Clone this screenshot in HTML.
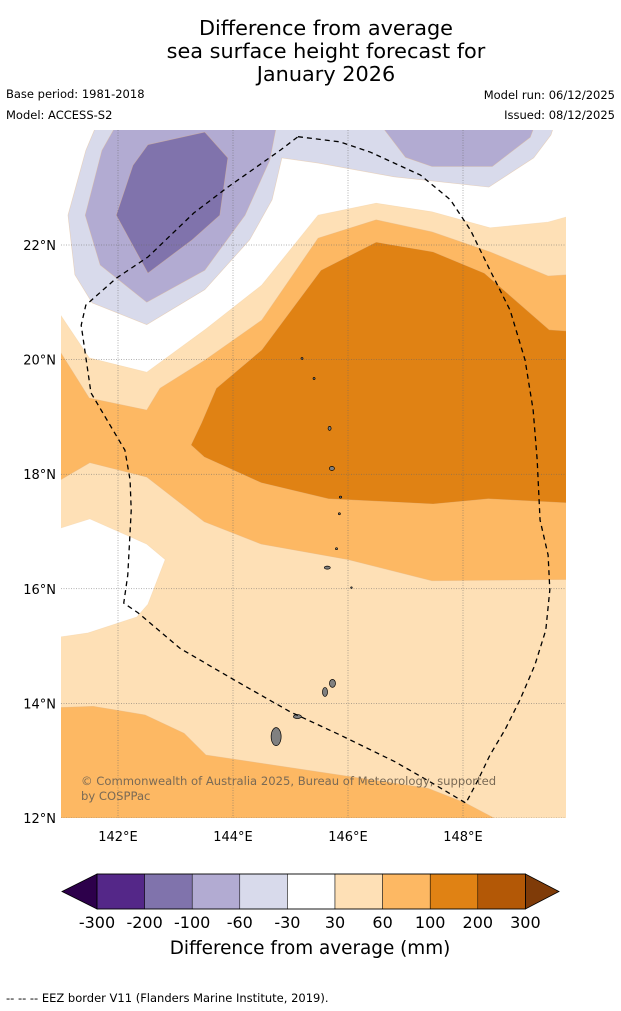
<!DOCTYPE html>
<html><head><meta charset="utf-8"><style>
body{margin:0;background:#fff;width:621px;height:1011px;overflow:hidden;font-family:"DejaVu Sans","Liberation Sans",sans-serif}
svg{position:absolute;left:0;top:0}
</style></head><body>
<svg id="chart" width="621" height="1011">
<text x="326" y="35" text-anchor="middle" font-size="20.8">Difference from average</text>
<text x="326" y="58" text-anchor="middle" font-size="20.8">sea surface height forecast for</text>
<text x="326" y="81" text-anchor="middle" font-size="20.8">January 2026</text>
<text x="6" y="98" font-size="11.5">Base period: 1981-2018</text>
<text x="6" y="119" font-size="11.5">Model: ACCESS-S2</text>
<text x="615" y="99" font-size="11.5" text-anchor="end">Model run: 06/12/2025</text>
<text x="615" y="119" font-size="11.5" text-anchor="end">Issued: 08/12/2025</text>
<defs><clipPath id="mc"><rect x="61" y="130" width="505" height="688"/></clipPath></defs>
<g id="map" clip-path="url(#mc)"></g>
<g id="axes"></g>
<g id="cbar"></g>
<text x="310" y="954" text-anchor="middle" font-size="18.4">Difference from average (mm)</text>
<text x="6" y="1002" font-size="11.5">--  --  -- EEZ border V11 (Flanders Marine Institute, 2019).</text>
</svg>
<script>
const lonTicks=[142,144,146,148];
const latTicks=[12,14,16,18,20,22];
const cbLevels=["-300","-200","-100","-60","-30","30","60","100","200","300"];
const cbColors=["#542788","#8073ac","#b2abd2","#d8daeb","#ffffff","#fee0b6","#fdb863","#e08214","#b35806"];
const contourWhite=[[141.0,20.78],[141.5,20.03],[142.5,19.78],[143.51,20.52],[144.5,21.3],[145.48,22.52],[146.49,22.73],[147.46,22.58],[148.47,22.3],[149.48,22.4],[149.8,22.49],[149.9,22.49],[149.9,24.2],[140.9,24.2],[140.9,20.78]];
const contourWhitePocket=[[141.0,17.06],[141.51,17.22],[142.5,16.78],[142.82,16.51],[142.52,15.73],[142.33,15.51],[141.48,15.23],[141.0,15.16]];
const contourM30=[[141.67,24.2],[141.44,23.65],[141.13,22.52],[141.25,21.48],[141.55,20.99],[142.5,20.61],[143.51,21.22],[144.29,22.09],[144.68,22.79],[144.85,23.52],[145.48,23.43],[146.8,23.19],[148.45,23.01],[149.23,23.52],[149.53,23.92],[149.62,24.2]];
const contourM60a=[[142.03,24.2],[141.72,23.65],[141.43,22.52],[141.69,21.65],[142.5,21.0],[143.51,21.56],[144.21,22.52],[144.64,23.48],[144.78,24.2]];
const contourM60b=[[146.49,24.2],[147.0,23.53],[147.46,23.37],[148.51,23.37],[149.17,23.88],[149.29,24.2]];
const contourM100=[[142.52,23.75],[143.51,23.97],[143.91,23.52],[143.77,22.52],[143.29,22.09],[142.52,21.51],[141.97,22.52],[142.26,23.39]];
const contourP60=[[141.0,20.13],[141.5,19.33],[142.5,19.12],[142.73,19.5],[143.51,19.99],[144.5,20.69],[145.48,22.12],[146.49,22.44],[147.46,22.23],[148.47,21.88],[149.48,21.46],[149.8,21.48],[149.8,16.16],[147.46,16.14],[146.0,16.51],[144.49,16.78],[143.5,17.17],[142.5,17.95],[141.51,18.2],[141.0,17.9]];
const contourP100=[[143.27,18.51],[143.45,18.89],[143.71,19.5],[144.5,20.17],[145.53,21.56],[146.49,22.05],[147.48,21.88],[148.37,21.51],[149.5,20.52],[149.8,20.5],[149.8,17.5],[148.44,17.57],[147.48,17.48],[145.66,17.57],[144.49,17.85],[143.5,18.3]];
const contourP60South=[[141.0,13.93],[141.57,13.95],[142.47,13.8],[143.15,13.48],[143.53,13.1],[147.39,12.52],[148.05,12.26],[148.54,12.0],[141.0,12.0]];
const eezBorder=[[145.13,23.89],[145.86,23.8],[146.39,23.62],[147.26,23.22],[147.78,22.79],[148.13,22.26],[148.47,21.56],[148.82,20.86],[149.08,19.99],[149.22,19.12],[149.29,18.25],[149.34,17.2],[149.48,16.59],[149.51,15.98],[149.44,15.28],[149.25,14.67],[148.99,14.06],[148.73,13.54],[148.47,13.1],[148.26,12.66],[148.05,12.26],[147.43,12.63],[146.82,12.98],[145.86,13.45],[145.0,13.85],[144.02,14.41],[143.08,14.96],[142.35,15.58],[142.1,15.75],[142.17,16.24],[142.23,17.37],[142.21,17.9],[142.12,18.42],[141.83,18.91],[141.53,19.42],[141.36,20.6],[141.44,20.95],[141.97,21.42],[142.52,21.79],[143.32,22.56],[143.91,23.01],[144.83,23.66],[145.13,23.89]];
const islands=[[144.75,13.42,5,9],[145.12,13.77,4,2],[145.6,14.2,2.5,4.5],[145.73,14.35,3,4],[145.64,16.37,3,1.5],[145.8,16.7,1,1],[145.85,17.31,1,1],[145.87,17.6,1.2,1],[145.72,18.1,2.5,2],[145.68,18.8,1.5,2],[145.41,19.67,1,1],[145.2,20.02,1,1],[146.06,16.02,0.8,0.8]];

const NS="http://www.w3.org/2000/svg";
const X=lon=>118+(lon-142)*57.5;
const Y=lat=>818-(lat-12)*57.3;
function mk(tag,parent,attrs){const e=document.createElementNS(NS,tag);for(const k in attrs)e.setAttribute(k,attrs[k]);parent.appendChild(e);return e;}
const map=document.getElementById('map');
const bg=mk('rect',map,{x:61,y:130,width:505,height:688,fill:'#fee0b6'});


const layers=[[contourWhite,'#ffffff','band-below-30'],[contourWhitePocket,'#ffffff','band-below-30-west'],[contourM30,'#d8daeb','band-minus-30'],[contourM60a,'#b2abd2','band-minus-60-west'],[contourM60b,'#b2abd2','band-minus-60-east'],[contourM100,'#8073ac','band-minus-100'],[contourP60,'#fdb863','band-60-100'],[contourP100,'#e08214','band-100-200'],[contourP60South,'#fdb863','band-60-100-south']];
for(const [pts,col,name] of layers){
 const p=mk('polygon',map,{points:pts.map(d=>X(d[0])+','+Y(d[1])).join(' '),fill:col,stroke:col==='#ffffff'?'#f3d2a6':'#e6b98a','stroke-width':0.6,'stroke-opacity':0.5});
 
 
}
for(const d of islands){
 const e=mk('ellipse',map,{cx:X(d[0]),cy:Y(d[1]),rx:d[2],ry:d[3],fill:'#808080',stroke:'#000','stroke-width':0.7});
 
 
}
const ax=document.getElementById('axes');
for(const t of lonTicks){
 const l=mk('line',map,{x1:X(t),x2:X(t),y1:130,y2:818,stroke:'#666','stroke-width':0.5,'stroke-dasharray':'1,1.5'});
 
 
 const tx=mk('text',ax,{x:X(t),y:841,'text-anchor':'middle','font-size':13});
 tx.textContent=t+'°E';
 
 
}
for(const t of latTicks){
 const l=mk('line',map,{x1:61,x2:566,y1:Y(t),y2:Y(t),stroke:'#666','stroke-width':0.5,'stroke-dasharray':'1,1.5'});
 
 
 const tx=mk('text',ax,{x:56,y:Y(t)+5,'text-anchor':'end','font-size':13});
 tx.textContent=t+'°N';
 
 
}
const eez=mk('polyline',map,{points:eezBorder.map(d=>X(d[0])+','+Y(d[1])).join(' '),fill:'none',stroke:'#000','stroke-width':1.3,'stroke-dasharray':'5,4'});


const cp=mk('text',map,{x:81,y:785,'font-size':11.6,fill:'#7a6a55'});
cp.textContent='© Commonwealth of Australia 2025, Bureau of Meteorology, supported';


const cp2=mk('text',map,{x:81,y:800,'font-size':11.6,fill:'#7a6a55'});
cp2.textContent='by COSPPac';



const cb=document.getElementById('cbar');
const cx0=97,cw=47.6,cy=874,ch=35;
const tl=mk('polygon',cb,{points:`${cx0},${cy} ${cx0},${cy+ch} 62,${cy+ch/2}`,fill:'#2d004b',stroke:'#000','stroke-width':0.8});


cbColors.forEach((c,i)=>{
 const r=mk('rect',cb,{x:cx0+i*cw,y:cy,width:cw,height:ch,fill:c,stroke:'#000','stroke-width':0.5});
 
 
});
const xe=cx0+cbColors.length*cw;
const tr=mk('polygon',cb,{points:`${xe},${cy} ${xe},${cy+ch} 559,${cy+ch/2}`,fill:'#7f3b08',stroke:'#000','stroke-width':0.8});


mk('rect',cb,{x:cx0,y:cy,width:xe-cx0,height:ch,fill:'none',stroke:'#000','stroke-width':0.8});
cbLevels.forEach((s,i)=>{
 const t=mk('text',cb,{x:cx0+i*cw,y:928,'text-anchor':'middle','font-size':16});
 t.textContent=s;
 
 
});
</script>
</body></html>
